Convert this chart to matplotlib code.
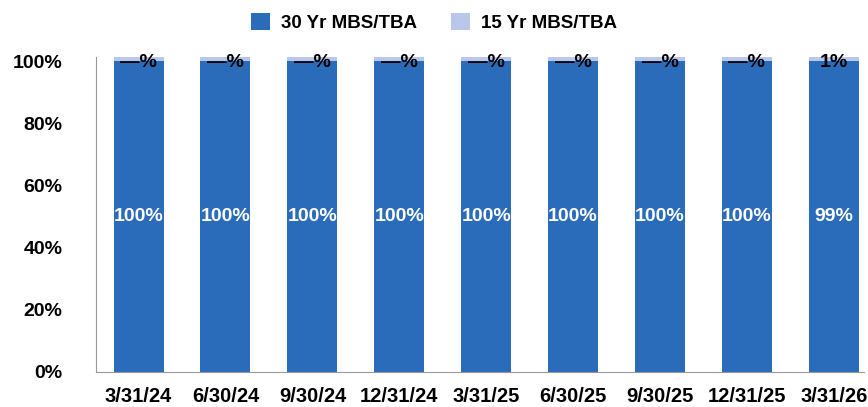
import matplotlib.pyplot as plt

plt.rcParams['font.family'] = ['Liberation Sans', 'DejaVu Sans']

# Datos
fechas = ['3/31/24', '6/30/24', '9/30/24', '12/31/24', '3/31/25',
          '6/30/25', '9/30/25', '12/31/25', '3/31/26']
yr30 = [100, 100, 100, 100, 100, 100, 100, 100, 99]
yr15 = [1.3, 1.3, 1.3, 1.3, 1.3, 1.3, 1.3, 1.3, 1.3]
etiquetas_30 = ['100%'] * 8 + ['99%']
etiquetas_15 = ['—%'] * 8 + ['1%']

azul = '#2b6cba'
azul_claro = '#b9c7eb'

fig = plt.figure(figsize=(8.68, 4.07), dpi=100)
ax = fig.add_axes([0.1106, 0.086, 0.885, 0.774])

x = range(len(fechas))
base30 = [100] * len(fechas)  # la barra oscura llega al 100% en el gráfico original
ax.bar(x, base30, width=0.575, color=azul, label='30 Yr MBS/TBA')
ax.bar(x, yr15, width=0.575, bottom=base30, color=azul_claro, label='15 Yr MBS/TBA')

for i in x:
    ax.text(i, 50, etiquetas_30[i], ha='center', va='center', color='white',
            fontsize=14, fontweight='bold')
    ax.text(i, 99.5, etiquetas_15[i], ha='center', va='center', color='black',
            fontsize=14, fontweight='bold')

ax.set_xlim(-0.49, 8.35)
ax.set_ylim(0, 101.4)
ax.set_yticks([0, 20, 40, 60, 80, 100])
ax.set_yticklabels(['0%', '20%', '40%', '60%', '80%', '100%'])
ax.set_xticks(list(x))
ax.set_xticklabels(fechas)

for lab in ax.get_yticklabels():
    lab.set_fontweight('bold')
    lab.set_fontsize(14)
for lab in ax.get_xticklabels():
    lab.set_fontweight('bold')
    lab.set_fontsize(14.5)

ax.tick_params(axis='y', length=0, pad=24)
ax.tick_params(axis='x', length=0, pad=11)
for s in ['top', 'right']:
    ax.spines[s].set_visible(False)
for s in ['left', 'bottom']:
    ax.spines[s].set_color('#999999')

leg = fig.legend(loc='upper center', bbox_to_anchor=(0.5, 1.01), ncol=2, frameon=False,
                 prop={'weight': 'bold', 'size': 13.5}, handlelength=1.0, handleheight=1.0,
                 columnspacing=1.8, handletextpad=0.6)

plt.savefig('out.png')
